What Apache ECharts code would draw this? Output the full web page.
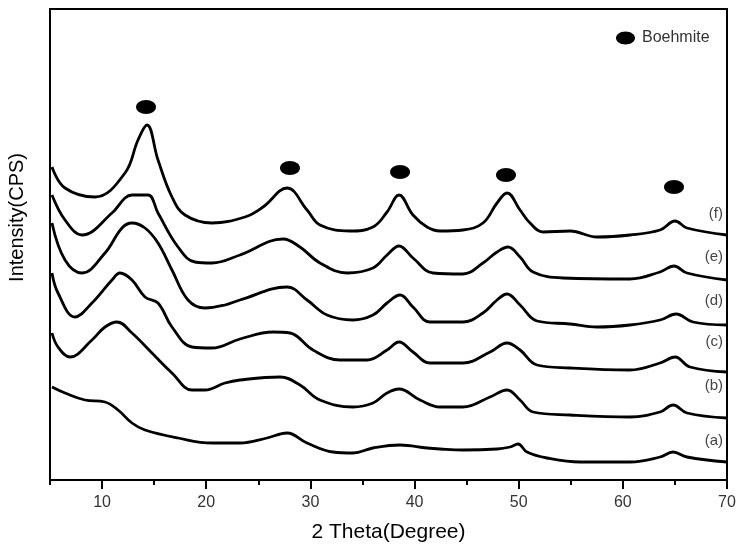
<!DOCTYPE html>
<html>
<head>
<meta charset="utf-8">
<script src="https://cdn.jsdelivr.net/npm/echarts@6/dist/echarts.min.js"></script>
<style>html,body{margin:0;padding:0;background:#fff;}#c{width:749px;height:550px;}</style>
</head>
<body>
<div id="c"></div>
<script>
// [2theta (deg), intensity (arb. units)]
const curveA = [[5.19,93],[6.44,87],[8.36,80],[10.28,78],[11.53,70],[12.87,57],[14.12,50],[17.29,42],[20.55,37],[23.24,37],[25.83,42],[27.76,47],[29.68,37],[32.17,28],[34.09,27],[36.01,32],[38.61,35],[41.2,32],[42.45,31],[44.65,30],[47.92,31],[49.17,33],[49.93,36],[50.8,28],[52.72,22],[55.89,18],[60.69,18],[63.57,23],[64.82,28],[66.16,23],[70,18]];
const curveB = [[5.19,147],[5.77,133],[6.92,123],[9.03,140],[10.28,153],[11.43,158],[12.87,147],[14.79,127],[16.71,107],[18.63,90],[19.88,90],[21.8,97],[23.24,100],[27.08,103],[29.0,95],[30.92,80],[34.09,73],[36.01,77],[37.36,87],[38.51,91],[40.53,80],[42.45,73],[44.65,73],[47.25,83],[48.88,90],[50.13,80],[51.38,68],[54.93,65],[60.69,63],[63.57,68],[64.82,75],[66.16,67],[70,62]];
const curveC = [[5.19,207],[5.77,187],[7.4,163],[9.03,177],[10.95,200],[11.72,207],[12.87,200],[14.12,183],[15.37,177],[16.71,153],[18.63,133],[20.55,132],[23.24,141],[26.41,148],[28.04,147],[30.25,130],[32.84,120],[35.44,120],[37.36,130],[38.51,138],[39.85,128],[41.49,117],[44.65,117],[47.25,128],[48.88,137],[50.13,130],[51.76,115],[54.93,112],[60.69,110],[63.57,117],[65.01,123],[66.45,113],[70,108]];
const curveD = [[5.19,257],[6.44,220],[8.07,207],[10.28,227],[11.91,252],[12.87,257],[14.12,252],[15.37,237],[16.71,210],[18.25,180],[19.88,172],[21.8,175],[23.24,180],[27.76,193],[29.68,180],[31.6,165],[34.09,160],[36.01,165],[37.36,177],[38.61,185],[39.85,173],[41.49,158],[44.65,158],[46.57,167],[47.92,180],[48.88,186],[50.13,175],[51.76,159],[54.93,156],[57.52,153],[60.69,155],[63.57,160],[65.11,166],[66.74,158],[70,155]];
const curveE = [[5.19,285],[6.44,260],[8.07,245],[10.95,267],[12.2,282],[12.87,285],[14.41,285],[15.37,267],[17.29,233],[18.92,218],[20.55,217],[23.24,225],[27.37,241],[29.0,233],[30.92,217],[33.52,207],[36.01,212],[37.36,225],[38.51,234],[39.85,222],[41.77,207],[44.65,206],[46.57,217],[47.92,228],[48.98,233],[50.13,223],[51.38,208],[54.26,202],[60.69,201],[63.57,208],[64.91,214],[66.16,207],[70,200]];
const curveF = [[5.19,313],[6.44,292],[9.32,283],[12.2,307],[13.45,340],[14.31,355],[15.37,320],[16.71,283],[17.96,265],[20.55,257],[23.72,263],[25.45,273],[27.76,292],[29.68,270],[30.92,255],[33.8,249],[36.01,253],[37.36,268],[38.51,285],[39.85,265],[41.2,253],[42.45,249],[44.65,250],[46.57,257],[47.92,277],[48.88,287],[50.13,270],[51.09,257],[52.34,248],[54.93,249],[57.52,243],[60.69,245],[63.57,250],[65.01,259],[66.16,252],[70,245]];
const boehmitePeaks = [[14.22,373],[28.04,312],[38.61,308],[48.78,305],[64.91,293]];
const curveNames = ['(a)','(b)','(c)','(d)','(e)','(f)'];
const curveLabelY = [442,387,343,302,258,215];
const majorTicks = [10,20,30,40,50,60,70];
const minorTicks = [5,15,25,35,45,55,65];

const ellipse = 'path://M0,1C0,0.448 0.448,0 1,0C1.552,0 2,0.448 2,1C2,1.552 1.552,2 1,2C0.448,2 0,1.552 0,1Z';
const font = '"Liberation Sans", Arial, sans-serif';
const curves = [curveA, curveB, curveC, curveD, curveE, curveF];

const chart = echarts.init(document.getElementById('c'));
const series = curves.map((d, i) => ({
  type: 'line', name: curveNames[i], data: d, showSymbol: false, symbol: 'none',
  smooth: 0.4,
  lineStyle: {color: '#000', width: 2.8}, silent: true, z: 2
}));
series.push({
  type: 'scatter', name: 'Boehmite', data: boehmitePeaks, symbol: ellipse,
  symbolSize: [20, 14], itemStyle: {color: '#000', opacity: 1}, z: 3
});
const labels = curveNames.map((n, i) => ({
  type: 'text', right: 26, top: curveLabelY[i] - 9,
  style: {text: n, fontFamily: font, fontSize: 15, fill: '#444'}
}));
labels.push({
  type: 'text', left: 7, top: 153, rotation: Math.PI / 2,
  style: {text: 'Intensity(CPS)', fontFamily: font, fontSize: 20, fill: '#000'}
});
chart.setOption({
  animation: false,
  backgroundColor: '#fff',
  grid: {left: 50, right: 22, top: 9, bottom: 70, show: true, borderColor: '#000', borderWidth: 2,
         containLabel: false, outerBoundsMode: 'none'},
  legend: {
    data: [{name: 'Boehmite', icon: ellipse, itemStyle: {color: '#000', opacity: 1}}], left: 611, top: 25,
    itemWidth: 19, itemHeight: 13, symbolKeepAspect: false,
    textStyle: {fontFamily: font, fontSize: 16, color: '#333', padding: [0, 0, 0, 2]}
  },
  xAxis: [{
    type: 'value', min: 5, max: 70, interval: 5,
    name: '2 Theta(Degree)', nameLocation: 'middle', nameGap: 42,
    nameTextStyle: {fontFamily: font, fontSize: 21, color: '#000'},
    axisLine: {show: true, onZero: false, lineStyle: {color: '#000', width: 2}},
    axisTick: {show: true, customValues: majorTicks, length: 9, lineStyle: {color: '#000', width: 2}},
    axisLabel: {show: true, customValues: majorTicks, fontFamily: font, fontSize: 16, color: '#333', margin: 15},
    splitLine: {show: false}
  }, {
    type: 'value', min: 5, max: 70, interval: 5, position: 'bottom',
    axisLine: {show: false},
    axisTick: {show: true, customValues: minorTicks, length: 5, lineStyle: {color: '#000', width: 2}},
    axisLabel: {show: false}, splitLine: {show: false}
  }],
  yAxis: {
    type: 'value', min: 0, max: 471,
    axisLine: {show: true, lineStyle: {color: '#000', width: 2}},
    axisTick: {show: false}, axisLabel: {show: false}, splitLine: {show: false}
  },
  graphic: labels,
  series: series
});
</script>
</body>
</html>
